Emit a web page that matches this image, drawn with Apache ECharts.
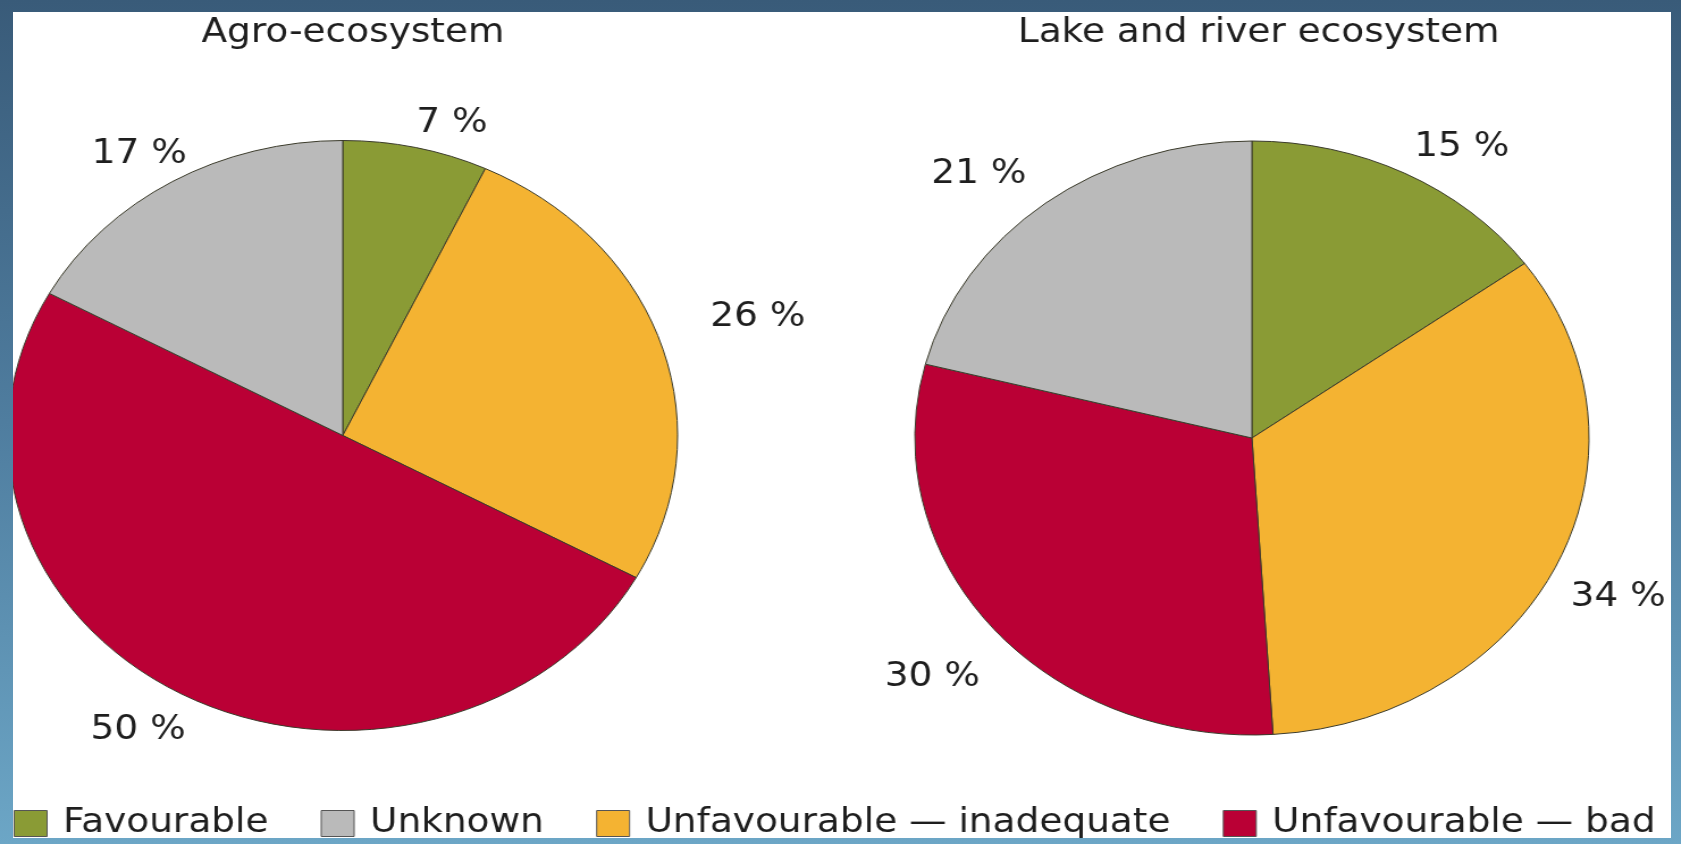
<!DOCTYPE html>
<html>
<head>
<meta charset="utf-8">
<script src="https://cdn.jsdelivr.net/npm/echarts@6/dist/echarts.min.js"></script>
<style>
  html, body { margin: 0; padding: 0; }
  body { width: 1681px; height: 844px; overflow: hidden; position: relative;
         background: linear-gradient(to bottom, #395b79 0%, #4f7d9f 50%, #6ca6c6 100%); }
  #paper { position: absolute; left: 13px; top: 12px; width: 1658px; height: 826px;
           background: #ffffff; overflow: hidden; }
  #chart { position: absolute; left: -13px; top: -12px; width: 1481px; height: 844px;
           transform: scaleX(1.135); transform-origin: 0 0; }
</style>
</head>
<body>
<div id="paper"><div id="chart"></div></div>
<script>
// ---- data ----
const categories = ['Favourable', 'Unfavourable — inadequate', 'Unfavourable — bad', 'Unknown'];
const legendOrder = ['Favourable', 'Unknown', 'Unfavourable — inadequate', 'Unfavourable — bad'];
const pieTitles = ['Agro-ecosystem', 'Lake and river ecosystem'];
const agroValues = [7, 26, 50, 17];
const lakeValues = [15, 34, 30, 21];

// ---- styling ----
const colors = ['#8a9b35', '#f4b332', '#ba0035', '#bababa'];
const agroLabelLines = [[25, -10], [88.5, -46], [41, -28.5], [32, -34]];
const lakeLabelLines = [[29, -10], [76.4, -62], [78, -54.4], [36.2, -10.6]];
const FONT = '"DejaVu Sans", Verdana, sans-serif';

function buildData(values, lines) {
  return categories.map((name, i) => ({
    name: name,
    value: values[i],
    itemStyle: { color: colors[i] },
    labelLine: { show: false, length: lines[i][0], length2: lines[i][1] }
  }));
}

function pieSeries(values, lines, center, radius) {
  return {
    type: 'pie',
    center: center,
    radius: radius,
    startAngle: 90,
    clockwise: true,
    avoidLabelOverlap: false,
    silent: true,
    itemStyle: { borderColor: '#3a3a2a', borderWidth: 1 },
    label: {
      show: true,
      position: 'outside',
      formatter: '{c} %',
      color: '#1e1e1e',
      fontFamily: FONT,
      fontSize: 33,
      distanceToLabelLine: 5
    },
    labelLine: { show: false },
    emphasis: { disabled: true },
    data: buildData(values, lines)
  };
}

const chart = echarts.init(document.getElementById('chart'), null, { renderer: 'canvas' });
chart.setOption({
  animation: false,
  backgroundColor: 'transparent',
  color: colors,
  title: [
    { text: pieTitles[0], left: 311, top: 17, textAlign: 'center', padding: 0,
      textStyle: { fontFamily: FONT, fontSize: 33, fontWeight: 'normal', color: '#1e1e1e' } },
    { text: pieTitles[1], left: 1109, top: 17, textAlign: 'center', padding: 0,
      textStyle: { fontFamily: FONT, fontSize: 33, fontWeight: 'normal', color: '#1e1e1e' } }
  ],
  legend: {
    data: legendOrder,
    left: 12,
    top: 807,
    padding: 0,
    itemGap: 46,
    itemWidth: 29,
    itemHeight: 26,
    icon: 'rect',
    selectedMode: false,
    itemStyle: { borderColor: '#555', borderWidth: 1 },
    textStyle: { fontFamily: FONT, fontSize: 33, color: '#1e1e1e', padding: [0, 0, 0, 9] }
  },
  series: [
    pieSeries(agroValues, agroLabelLines, [302, 435.5], 295),
    pieSeries(lakeValues, lakeLabelLines, [1103, 438], 297)
  ]
});
</script>
</body>
</html>
